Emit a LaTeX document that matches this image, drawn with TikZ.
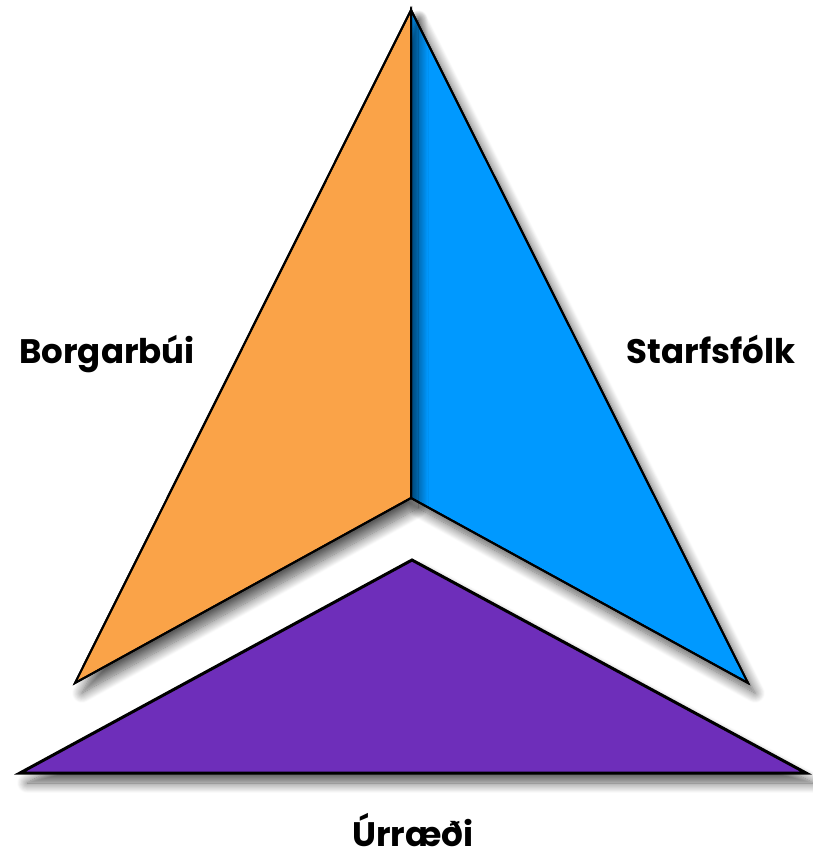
\documentclass[tikz,border=0pt]{standalone}
\usepackage{fontspec}
\setmainfont{Poppins}
\usetikzlibrary{shadows.blur}
\definecolor{orangeF}{RGB}{250,163,72}
\definecolor{blueF}{RGB}{0,153,255}
\definecolor{purpleF}{RGB}{110,46,186}
\begin{document}
\begin{tikzpicture}[x=1pt,y=-1pt,
  facet/.style={draw=black,line width=2pt,line join=miter,
    blur shadow={shadow xshift=7pt,shadow yshift=-10pt,shadow blur steps=14,shadow blur radius=10pt,shadow opacity=65}},
  lbl/.style={font=\fontsize{34}{36}\selectfont\bfseries,text=black,inner sep=0pt,anchor=base}]
\useasboundingbox (0,0) rectangle (812,861);
\coordinate (top) at (411,10);
\coordinate (mid) at (411,498);
\coordinate (ol) at (75,683);
\coordinate (br) at (748,683);
\coordinate (pa) at (412,560);
\coordinate (pl) at (20,773);
\coordinate (pr) at (806,773);
\fill[facet,fill=purpleF,line width=3pt] (pa) -- (pr) -- (pl) -- cycle;
\draw[facet,fill=blueF] (top) -- (br) -- (mid) -- cycle;
\draw[facet,fill=orangeF] (top) -- (mid) -- (ol) -- cycle;
\draw[black,line width=2pt,line join=miter] (top) -- (br) -- (mid) -- (ol) -- cycle;
\draw[black,line width=2pt] (top) -- (mid);
\node[lbl] (borg) at (107,363) {Borgarbúi};
\node[lbl] (star) at (711,363) {Starfsfólk};
\node[lbl] (urr) at (413,846) {Úrræði};
\end{tikzpicture}
\end{document}
